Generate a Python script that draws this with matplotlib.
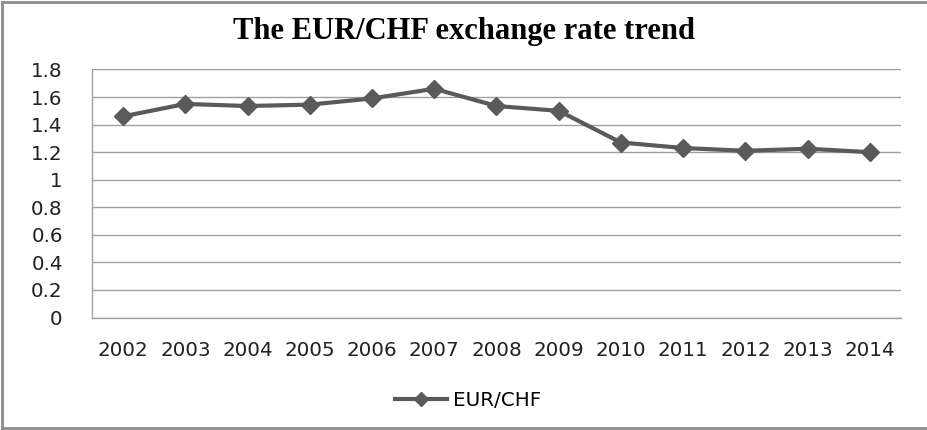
import numpy as np
import matplotlib.pyplot as plt
from matplotlib.lines import Line2D

plt.rcParams['font.family'] = 'DejaVu Sans'

years = ['2002', '2003', '2004', '2005', '2006', '2007', '2008',
         '2009', '2010', '2011', '2012', '2013', '2014']
eur_chf = [1.46, 1.55, 1.535, 1.545, 1.59, 1.66, 1.535,
           1.50, 1.27, 1.23, 1.21, 1.225, 1.20]
yticks = [0, 0.2, 0.4, 0.6, 0.8, 1, 1.2, 1.4, 1.6, 1.8]
ytick_labels = ['0', '0.2', '0.4', '0.6', '0.8', '1', '1.2', '1.4', '1.6', '1.8']

W, H = 928, 430
line_col = '#5a5a5a'
grid_col = '#a0a0a0'

fig = plt.figure(figsize=(W / 100, H / 100), dpi=100)
ax = fig.add_axes([92 / W, 1 - 317.5 / H, (901 - 92) / W, (317.5 - 69.5) / H])

x = np.arange(len(years))
ax.plot(x, eur_chf, color=line_col, lw=3, marker='D', ms=9.5,
        markeredgecolor=line_col, markerfacecolor=line_col)

ax.set_xlim(-0.5, len(years) - 0.5)
ax.set_ylim(0, 1.8)
ax.set_yticks(yticks)
ax.set_yticklabels(ytick_labels)
ax.set_xticks(x)
ax.set_xticklabels(years)
ax.grid(axis='y', color=grid_col, lw=1)
ax.set_axisbelow(True)
for s in ['top', 'right']:
    ax.spines[s].set_visible(False)
for s in ['left', 'bottom']:
    ax.spines[s].set_color(grid_col)
    ax.spines[s].set_linewidth(1)
ax.tick_params(axis='y', length=0, pad=21, labelsize=14.3, labelcolor='#222222')
ax.tick_params(axis='x', length=0, pad=17, labelsize=14.3, labelcolor='#222222')

fig.text(0.5, 1 - 31 / H, 'The EUR/CHF exchange rate trend', ha='center', va='center',
         family='Liberation Serif', fontweight='bold', fontsize=22)

handle = Line2D([], [], color=line_col, lw=3, marker='D', ms=7)
fig.legend([handle], ['EUR/CHF'], loc='center', bbox_to_anchor=(468 / W, 1 - 400 / H),
           frameon=False, fontsize=14.3, handlelength=2.6, handletextpad=0.3)

# chart border (left, top, bottom)
bc = '#8c8c8c'
fig.add_artist(Line2D([2 / W, 2 / W], [2 / H, 1 - 2 / H], color=bc, lw=2, transform=fig.transFigure))
fig.add_artist(Line2D([2 / W, 1], [1 - 2 / H, 1 - 2 / H], color=bc, lw=2, transform=fig.transFigure))
fig.add_artist(Line2D([2 / W, 1], [2 / H, 2 / H], color=bc, lw=2, transform=fig.transFigure))

fig.savefig('out.png', dpi=100)
